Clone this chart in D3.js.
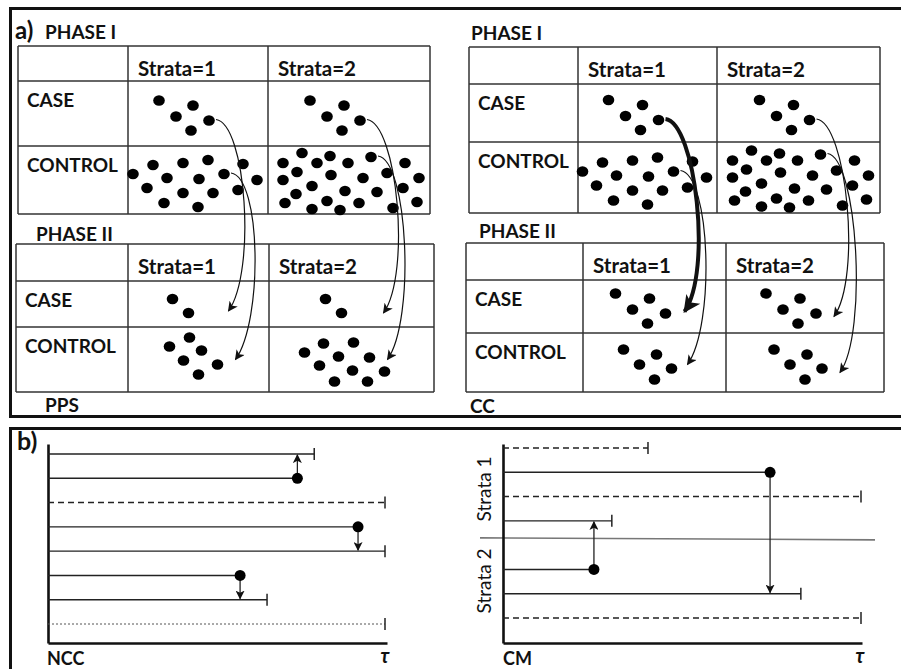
<!DOCTYPE html>
<html>
<head>
<meta charset="utf-8">
<script src="https://cdn.jsdelivr.net/npm/d3@7"></script>
<style>
  body { margin: 0; background: #fff; }
  text { font-family: Lato, "Open Sans", sans-serif; fill: #111; }
</style>
</head>
<body>
<svg id="chart" width="901" height="669"></svg>
<script>
// ---- data ----
const strata = ['Strata=1', 'Strata=2'];
const groups = ['CASE', 'CONTROL'];

// dot clouds, offsets from the centre of their cell
const caseCloud = [[-39, -13], [-5, -8], [-22, 3], [11, 7], [-7, 17]];
const controlCloud1 = [[-65, -6], [-45, -15], [-31, -2], [-15, -17], [1, -1], [10, -20], [26, -6], [45, -16],
  [59, 0], [-51, 8], [-15, 13], [15, 13], [40, 10], [-34, 23], [0, 27]];
const controlCloud2 = [[-66, -17], [-47, -27], [-32, -17], [-19, -24], [-1, -17], [22, -23], [56, -17],
  [-52, -8], [-66, 0], [-18, -5], [14, -2], [38, -7], [70, -2], [-37, 6], [-4, 11], [28, 12], [54, 8],
  [-53, 14], [-22, 21], [10, 23], [44, 28], [-64, 23], [-37, 29], [-9, 30], [68, 22]];
const ppsCase2 = [[-26, -5], [-10, 9]];
const ppsControl1 = [[-29, -13], [-9, -22], [3, -9], [-15, 1], [19, 5], [0, 15]];
const ppsControl2 = [[-47, -7], [-28, -16], [2, -17], [-13, -3], [18, -2], [-32, 6], [1, 11], [33, 12],
  [-17, 22], [16, 22]];
const ccControl = [[-31, -13], [2, -8], [-15, 2], [17, 6], [0, 17]];

// sampling arrows: source [table, row, col, dot] -> target [table, row, col] + end offset
const samplingArrows = [
  { src: [0, 0, 0, 3], dst: [1, 0, 0], end: [30, 7], bold: false },
  { src: [0, 1, 0, 6], dst: [1, 1, 0], end: [37, 0], bold: false },
  { src: [0, 0, 1, 3], dst: [1, 0, 1], end: [32, 9], bold: false },
  { src: [0, 1, 1, 5], dst: [1, 1, 1], end: [36, 0], bold: false },
  { src: [2, 0, 0, 3], dst: [3, 0, 0], end: [30, 5], bold: true },
  { src: [2, 1, 0, 6], dst: [3, 1, 0], end: [33, 2], bold: false },
  { src: [2, 0, 1, 3], dst: [3, 0, 1], end: [29, 10], bold: false },
  { src: [2, 1, 1, 5], dst: [3, 1, 1], end: [35, 10], bold: false }
];

// NCC follow-up (time as fraction of tau)
const nccEnd = [0.79, 0.74, 1, 0.92, 1, 0.57, 0.65, 1];
const nccStyle = ['solid', 'solid', 'dashed', 'solid', 'solid', 'solid', 'solid', 'dotted'];
const nccMark = ['cens', 'event', 'cens', 'event', 'cens', 'event', 'cens', 'cens'];
const nccLinks = [[1, 0], [3, 4], [5, 6]];

// CM follow-up
const cmEnd = [0.405, 0.746, 1, 0.304, 0.254, 0.832, 1];
const cmStyle = ['dashed', 'solid', 'dashed', 'solid', 'solid', 'solid', 'dashed'];
const cmMark = ['cens', 'event', 'cens', 'cens', 'event', 'cens', 'cens'];
const cmStrata = [1, 1, 1, 1, 2, 2, 2];
const cmLinks = [[4, 3], [1, 5]];
const cmDivider = 3.7;

// ---- layout ----
const tables = [
  { x: [18, 128, 268, 430], y: [46, 81, 146, 214], clouds: [[caseCloud, caseCloud], [controlCloud1, controlCloud2]] },
  { x: [16, 128, 269, 434], y: [244, 281, 327, 392], clouds: [[ppsCase2, ppsCase2], [ppsControl1, ppsControl2]] },
  { x: [469, 578, 717, 880], y: [47, 84, 142, 213], clouds: [[caseCloud, caseCloud], [controlCloud1, controlCloud2]] },
  { x: [466, 583, 726, 884], y: [243, 280, 333, 392], clouds: [[caseCloud, caseCloud], [ccControl, ccControl]] }
];

const svg = d3.select('#chart');
svg.append('rect').attr('width', 901).attr('height', 669).attr('fill', '#fff');

const defs = svg.append('defs');
function marker(id, w, h) {
  defs.append('marker')
    .attr('id', id)
    .attr('viewBox', '0 0 10 10')
    .attr('refX', 9).attr('refY', 5)
    .attr('markerUnits', 'userSpaceOnUse')
    .attr('markerWidth', w).attr('markerHeight', h)
    .attr('orient', 'auto')
    .append('path')
    .attr('d', 'M0,0L10,5L0,10L2.5,5Z')
    .attr('fill', '#111');
}
marker('headThin', 12, 10);
marker('headBold', 20, 17);
marker('headSmall', 9, 9);

// panel frames
svg.append('rect').attr('x', 10.5).attr('y', 8.5).attr('width', 900).attr('height', 408)
  .attr('fill', 'none').attr('stroke', '#111').attr('stroke-width', 3);
svg.append('rect').attr('x', 10.5).attr('y', 428.5).attr('width', 900).attr('height', 300)
  .attr('fill', 'none').attr('stroke', '#111').attr('stroke-width', 3);

function cellCentre(t, r, c) {
  return [(t.x[c + 1] + t.x[c + 2]) / 2, (t.y[r + 1] + t.y[r + 2]) / 2];
}

tables.forEach(t => {
  const g = svg.append('g');
  t.x.forEach(x => g.append('line').attr('x1', x).attr('x2', x).attr('y1', t.y[0]).attr('y2', t.y[3]));
  t.y.forEach(y => g.append('line').attr('x1', t.x[0]).attr('x2', t.x[3]).attr('y1', y).attr('y2', y));
  g.selectAll('line').attr('stroke', '#333').attr('stroke-width', 1.5);

  g.selectAll('.head')
    .data(strata)
    .enter()
    .append('text')
    .attr('x', (d, i) => t.x[i + 1] + 10)
    .attr('y', t.y[0] + 30)
    .attr('font-size', 20.5).attr('font-weight', 700)
    .text(d => d);

  g.selectAll('.grp')
    .data(groups)
    .enter()
    .append('text')
    .attr('x', t.x[0] + 9)
    .attr('y', (d, i) => t.y[i + 1] + 26)
    .attr('font-size', 19).attr('font-weight', 700)
    .text(d => d);

  t.clouds.forEach((row, r) => row.forEach((cloud, c) => {
    const [cx, cy] = cellCentre(t, r, c);
    const sx = d3.scaleLinear().domain([0, 1]).range([cx, cx + 1]);
    const sy = d3.scaleLinear().domain([0, 1]).range([cy, cy + 1]);
    g.selectAll(null)
      .data(cloud)
      .enter()
      .append('ellipse')
      .attr('cx', d => sx(d[0]))
      .attr('cy', d => sy(d[1]))
      .attr('rx', 5.8).attr('ry', 5.3)
      .attr('fill', '#000');
  }));
});

// sampling arrows
samplingArrows.forEach(a => {
  const st = tables[a.src[0]];
  const [scx, scy] = cellCentre(st, a.src[1], a.src[2]);
  const dot = st.clouds[a.src[1]][a.src[2]][a.src[3]];
  const s = [scx + dot[0] + 7, scy + dot[1] - 1];
  const [ecx, ecy] = cellCentre(tables[a.dst[0]], a.dst[1], a.dst[2]);
  const e = [ecx + a.end[0], ecy + a.end[1]];
  const p = d3.path();
  p.moveTo(s[0], s[1]);
  p.bezierCurveTo(s[0] + 30, s[1] + 4, e[0] + 28, e[1] - 40, e[0], e[1]);
  svg.append('path')
    .attr('d', p.toString())
    .attr('fill', 'none')
    .attr('stroke', '#111')
    .attr('stroke-width', a.bold ? 4 : 1.2)
    .attr('marker-end', a.bold ? 'url(#headBold)' : 'url(#headThin)');
});

// panel a labels
const labelsA = [
  { t: 'a)', x: 15, y: 39, s: 24 },
  { t: 'PHASE I', x: 45, y: 39, s: 19 },
  { t: 'PHASE II', x: 36, y: 241, s: 19 },
  { t: 'PPS', x: 45, y: 412, s: 19 },
  { t: 'PHASE I', x: 471, y: 40, s: 19 },
  { t: 'PHASE II', x: 479, y: 238, s: 19 },
  { t: 'CC', x: 470, y: 413, s: 19 }
];
svg.selectAll('.lab')
  .data(labelsA)
  .enter()
  .append('text')
  .attr('x', d => d.x).attr('y', d => d.y)
  .attr('font-size', d => d.s).attr('font-weight', 700)
  .text(d => d.t);

// ---- panel b ----
const dashes = { solid: null, dashed: '6,4', dotted: '2,2' };

function followUp(g, ends, styles, marks, links, x, yPos) {
  ends.forEach((t, i) => {
    const y = yPos(i);
    g.append('line')
      .attr('x1', x(0)).attr('x2', x(t))
      .attr('y1', y).attr('y2', y)
      .attr('stroke', styles[i] === 'dotted' ? '#555' : '#222')
      .attr('stroke-width', styles[i] === 'dotted' ? 1 : 1.4)
      .attr('stroke-dasharray', dashes[styles[i]]);
    if (marks[i] === 'cens') {
      g.append('line')
        .attr('x1', x(t)).attr('x2', x(t))
        .attr('y1', y - 6).attr('y2', y + 6)
        .attr('stroke', '#222').attr('stroke-width', 1.5);
    }
  });
  links.forEach(([from, to]) => {
    const xx = x(ends[from]);
    const y0 = yPos(from), y1 = yPos(to);
    g.append('line')
      .attr('x1', xx).attr('x2', xx)
      .attr('y1', y0).attr('y2', y1 + (y1 > y0 ? -1 : 1))
      .attr('stroke', '#222').attr('stroke-width', 1.3)
      .attr('marker-end', 'url(#headSmall)');
  });
  ends.forEach((t, i) => {
    if (marks[i] === 'event') {
      g.append('circle').attr('cx', x(t)).attr('cy', yPos(i)).attr('r', 5.5).attr('fill', '#000');
    }
  });
}

function drawAxes(g, x, top, bottom) {
  const yAxis = d3.scaleLinear().domain([0, 1]).range([bottom, top]);
  g.append('g')
    .attr('transform', `translate(${x.range()[0]},0)`)
    .call(d3.axisLeft(yAxis).tickValues([]).tickSizeOuter(0));
  g.append('g')
    .attr('transform', `translate(0,${bottom})`)
    .call(d3.axisBottom(x).tickValues([]).tickSizeOuter(0));
  g.selectAll('.domain').attr('stroke', '#111').attr('stroke-width', 2.6);
}

// NCC
const gN = svg.append('g');
const xN = d3.scaleLinear().domain([0, 1]).range([48, 385]);
const yN = d3.scalePoint().domain(d3.range(nccEnd.length)).range([454, 624]);
drawAxes(gN, d3.scaleLinear().domain([0, 1]).range([48, 387]), 444, 643);
followUp(gN, nccEnd, nccStyle, nccMark, nccLinks, xN, yN);

// CM
const gC = svg.append('g');
const xC = d3.scaleLinear().domain([0, 1]).range([503, 861]);
const slot = cmStrata.map((s, i) => i + (s === 2 ? 1 : 0));
const yC = d3.scaleLinear().domain([0, 7]).range([448, 618]);
gC.append('line')
  .attr('x1', 480).attr('x2', 875)
  .attr('y1', yC(cmDivider)).attr('y2', yC(cmDivider) + 2)
  .attr('stroke', '#777').attr('stroke-width', 1.6);
drawAxes(gC, d3.scaleLinear().domain([0, 1]).range([503, 862]), 444, 643);
followUp(gC, cmEnd, cmStyle, cmMark, cmLinks, xC, i => yC(slot[i]));

// CM strata labels, centred between the outer row and the divider
[1, 2].forEach(s => {
  const rows = slot.filter((v, i) => cmStrata[i] === s);
  const outer = s === 1 ? d3.min(rows) : d3.max(rows);
  const mid = (yC(outer) + yC(cmDivider)) / 2 + (s === 1 ? -4 : 3);
  gC.append('text')
    .attr('transform', `translate(483,${mid}) rotate(-90)`)
    .attr('text-anchor', 'middle')
    .attr('dominant-baseline', 'central')
    .attr('font-size', 19)
    .text('Strata ' + s);
});

// panel b labels
svg.append('text').attr('x', 17).attr('y', 450).attr('font-size', 25).attr('font-weight', 700).text('b)');
svg.append('text').attr('x', 47).attr('y', 665).attr('font-size', 18).attr('font-weight', 700).text('NCC');
svg.append('text').attr('x', 503).attr('y', 665).attr('font-size', 18).attr('font-weight', 700).text('CM');
[385, 860].forEach(x => {
  svg.append('text')
    .attr('x', x).attr('y', 663)
    .attr('text-anchor', 'middle')
    .attr('font-family', '"DejaVu Serif", serif')
    .attr('font-style', 'italic').attr('font-weight', 700)
    .attr('font-size', 20)
    .text('τ');
});
</script>
</body>
</html>
